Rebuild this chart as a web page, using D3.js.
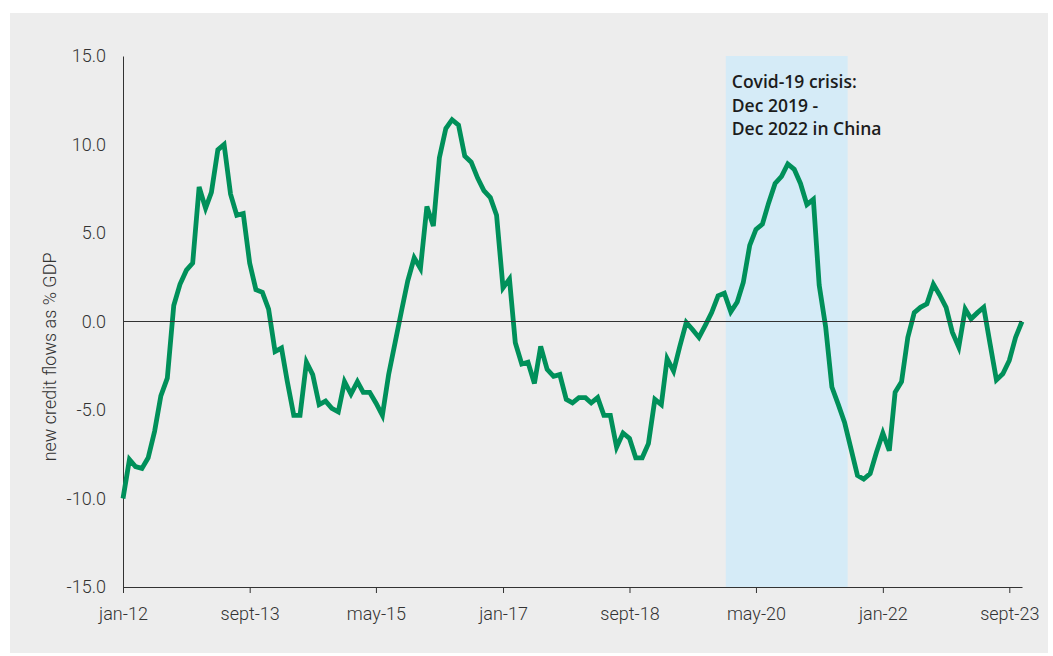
<!DOCTYPE html>
<html>
<head>
<meta charset="utf-8">
<script src="https://cdn.jsdelivr.net/npm/d3@7"></script>
<style>
    body { margin: 0; background: #ffffff; }
    .axis text { font-family: Roboto, "Noto Sans", sans-serif; font-weight: 300; font-size: 18px; fill: #333333; }
    .axis path, .axis line { stroke: #333333; stroke-width: 1; }
</style>
</head>
<body>
<div id="chart-area"></div>
<script>

// monthly series, jan-12 .. nov-23
var startMonth = "2012-01";
var creditFlows = [
    -10.0, -7.8, -8.2, -8.3, -7.7, -6.2, -4.2, -3.2, 0.9, 2.1, 2.9, 3.3,
    7.6, 6.4, 7.3, 9.7, 10.0, 7.2, 6.0, 6.1, 3.3, 1.8, 1.65, 0.7,
    -1.7, -1.5, -3.4, -5.3, -5.3, -2.3, -3.0, -4.7, -4.5, -4.9, -5.1, -3.4,
    -4.1, -3.4, -4.0, -4.0, -4.6, -5.3, -3.0, -1.2, 0.6, 2.3, 3.6, 3.0,
    6.5, 5.4, 9.25, 10.9, 11.4, 11.1, 9.35, 9.0, 8.1, 7.4, 7.0, 6.0,
    1.9, 2.4, -1.2, -2.4, -2.3, -3.5, -1.4, -2.7, -3.1, -3.0, -4.4, -4.6,
    -4.3, -4.3, -4.6, -4.3, -5.3, -5.3, -7.1, -6.3, -6.6, -7.7, -7.7, -6.9,
    -4.4, -4.7, -2.1, -2.8, -1.4, -0.05, -0.45, -0.9, -0.2, 0.5, 1.45, 1.6,
    0.55, 1.1, 2.2, 4.3, 5.2, 5.5, 6.7, 7.8, 8.2, 8.9, 8.6, 7.8,
    6.6, 6.9, 2.05, -0.3, -3.7, -4.7, -5.7, -7.2, -8.7, -8.9, -8.6, -7.4,
    -6.3, -7.3, -4.0, -3.4, -0.9, 0.5, 0.8, 1.0, 2.1, 1.5, 0.8, -0.6,
    -1.45, 0.7, 0.15, 0.5, 0.8, -1.3, -3.3, -2.95, -2.2, -0.9, 0.0
];

var xTickMonths = ["2012-01", "2013-09", "2015-05", "2017-01", "2018-09", "2020-05", "2022-01", "2023-09"];
var xTickLabels = ["jan-12", "sept-13", "may-15", "jan-17", "sept-18", "may-20", "jan-22", "sept-23"];
var yTicks = [-15, -10, -5, 0, 5, 10, 15];

var covidBand = ["2019-12-08", "2021-07-16"];
var covidNote = ["Covid-19 crisis:", "Dec 2019 -", "Dec 2022 in China"];
var yLabel = "new credit flows as % GDP";


LineChart = function(_parentElement, _data){
    this.parentElement = _parentElement;
    this.data = _data;
    this.initVis();
}

LineChart.prototype.initVis = function(){
    var vis = this;

    vis.margin = {top: 56, right: 31, bottom: 69, left: 123};
    vis.width = 1053 - vis.margin.left - vis.margin.right;
    vis.height = 656 - vis.margin.top - vis.margin.bottom;

    vis.root = d3.select("#" + vis.parentElement).append("svg")
        .attr("width", 1053)
        .attr("height", 656);

    // grey panel behind the chart
    vis.root.append("rect")
        .attr("x", 10)
        .attr("y", 13)
        .attr("width", 1038)
        .attr("height", 640)
        .attr("fill", "#ededed");

    vis.svg = vis.root.append("g")
        .attr("transform", "translate(" + vis.margin.left + "," + vis.margin.top + ")");

    var parseMonth = d3.timeParse("%Y-%m");
    var parseDay = d3.timeParse("%Y-%m-%d");
    vis.start = parseMonth(startMonth);

    vis.displayData = vis.data.map(function(v, i){
        return {date: d3.timeMonth.offset(vis.start, i), value: v};
    });

    vis.x = d3.scaleTime()
        .domain([vis.start, vis.displayData[vis.displayData.length - 1].date])
        .range([0, vis.width]);

    vis.y = d3.scaleLinear()
        .domain([-15, 15])
        .range([vis.height, 0]);

    // covid shading
    var b0 = parseDay(covidBand[0]), b1 = parseDay(covidBand[1]);
    vis.svg.append("rect")
        .attr("class", "band")
        .attr("x", vis.x(b0))
        .attr("y", 0)
        .attr("width", vis.x(b1) - vis.x(b0))
        .attr("height", vis.height)
        .attr("fill", "#d5ebf7");

    vis.svg.append("text")
        .attr("x", vis.x(b0) + 6)
        .attr("y", 32)
        .style("font-family", "'Open Sans', Roboto, sans-serif")
        .style("font-weight", 600)
        .style("font-size", "17.5px")
        .attr("fill", "#1c1c1c")
        .selectAll("tspan")
        .data(covidNote)
        .enter().append("tspan")
        .attr("x", vis.x(b0) + 6)
        .attr("dy", function(d, i){ return i === 0 ? 0 : 23.5; })
        .text(function(d){ return d; });

    // axes
    vis.xAxis = d3.axisBottom(vis.x)
        .tickValues(xTickMonths.map(parseMonth))
        .tickFormat(function(d, i){ return xTickLabels[i]; })
        .tickSize(6)
        .tickSizeOuter(0)
        .tickPadding(14);

    var fmt = d3.format(".1f");
    vis.yAxis = d3.axisLeft(vis.y)
        .tickValues(yTicks)
        .tickFormat(function(d){ return fmt(d).replace("\u2212", "-"); })
        .tickSize(0)
        .tickPadding(17);

    vis.svg.append("g")
        .attr("class", "x-axis axis")
        .attr("transform", "translate(0," + vis.height + ")")
        .call(vis.xAxis);

    vis.svg.append("g")
        .attr("class", "y-axis axis")
        .call(vis.yAxis);

    vis.svg.append("text")
        .attr("class", "y-label")
        .attr("transform", "translate(" + (56 - vis.margin.left) + "," + vis.y(-2.0) + ") rotate(-90)")
        .attr("text-anchor", "middle")
        .style("font-family", "Roboto, sans-serif")
        .style("font-weight", 300)
        .style("font-size", "18px")
        .attr("fill", "#333333")
        .text(yLabel);

    vis.updateVis();
}

LineChart.prototype.updateVis = function(){
    var vis = this;

    var line = d3.line()
        .x(function(d){ return vis.x(d.date); })
        .y(function(d){ return vis.y(d.value); });

    vis.svg.append("path")
        .datum(vis.displayData)
        .attr("class", "credit-line")
        .attr("d", line)
        .attr("fill", "none")
        .attr("stroke", "#00905a")
        .attr("stroke-width", 4.8)
        .attr("stroke-linejoin", "miter");

    // zero line
    vis.svg.append("line")
        .attr("x1", 0)
        .attr("x2", vis.width)
        .attr("y1", vis.y(0))
        .attr("y2", vis.y(0))
        .attr("stroke", "#333333")
        .attr("stroke-width", 1);
}

var chart = new LineChart("chart-area", creditFlows);

</script>
</body>
</html>
